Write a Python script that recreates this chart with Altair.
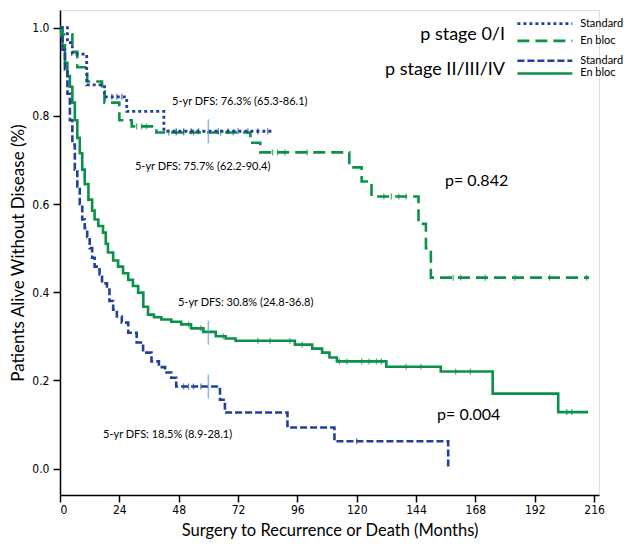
import altair as alt
import pandas as pd

# ---------------- data (months, disease-free survival) ----------------
# p stage 0/I, Standard
s0_std_t = [0, 3, 5, 10.8, 18, 27, 42, 86]
s0_std_s = [1.0, 0.966, 0.94, 0.87, 0.843, 0.81, 0.765, 0.765]
s0_std_c = [21, 23, 25, 47, 50, 53, 56, 64, 68, 72, 76, 80, 84]

# p stage 0/I, En bloc
s0_enb_t = [0, 1, 5, 7, 11, 17, 18, 24, 29, 39, 77, 81, 117, 122, 126, 145, 148, 150, 214]
s0_enb_s = [1.0, 0.985, 0.945, 0.91, 0.878, 0.855, 0.83, 0.79, 0.776, 0.762, 0.739, 0.717,
            0.683, 0.651, 0.617, 0.555, 0.50, 0.433, 0.433]
s0_enb_c = [31, 33, 35, 44, 47, 50, 54, 65, 70, 86, 88, 91, 100, 131, 134, 137, 140,
            159, 162, 172, 184, 198, 213]

# p stage II/III/IV, Standard
s2_std_t = [0, 1, 2, 3, 4, 5, 6, 7, 8, 9, 10, 11, 12, 13, 14, 16, 17, 19, 20, 21.5, 23, 25,
            27.6, 31, 33.6, 37, 40, 42.5, 45, 47, 64.7, 66.7, 92, 111, 157]
s2_std_s = [1.0, 0.95, 0.905, 0.85, 0.79, 0.735, 0.678, 0.64, 0.60, 0.565, 0.545, 0.525,
            0.50, 0.478, 0.458, 0.44, 0.42, 0.406, 0.38, 0.36, 0.345, 0.331, 0.308, 0.286,
            0.263, 0.243, 0.23, 0.218, 0.206, 0.186, 0.156, 0.127, 0.093, 0.062, 0.0]
s2_std_c = [50, 52, 54, 57, 120]

# p stage II/III/IV, En bloc
s2_enb_t = [0, 0.5, 1, 2, 3, 4, 5, 6, 7, 8, 9, 10, 11.5, 13, 14, 15.5, 17.4, 18.5, 19.4,
            21.5, 23.5, 25.5, 27.6, 29.5, 31.6, 33.7, 35.6, 38, 41, 45, 49, 53, 58, 63, 67,
            71, 95, 102, 106, 109, 112, 132, 154, 175, 201.5, 213.6]
s2_enb_s = [1.0, 0.98, 0.96, 0.92, 0.89, 0.866, 0.83, 0.79, 0.75, 0.715, 0.678, 0.645,
            0.61, 0.585, 0.565, 0.55, 0.535, 0.51, 0.49, 0.472, 0.458, 0.443, 0.428, 0.414,
            0.399, 0.367, 0.349, 0.343, 0.338, 0.333, 0.327, 0.318, 0.31, 0.30, 0.295,
            0.29, 0.281, 0.272, 0.263, 0.252, 0.243, 0.231, 0.22, 0.17, 0.128, 0.128]
s2_enb_c = [52, 57, 66, 80, 85, 93, 98, 113, 116, 122, 125, 128, 130, 140, 146, 160, 166,
            205, 207]

# 5-year markers
fiveyr_t = [60, 60, 60]
fiveyr_s = [0.765, 0.308, 0.186]

# annotations
ann_text = ["5-yr DFS: 76.3% (65.3-86.1)", "5-yr DFS: 75.7% (62.2-90.4)",
            "5-yr DFS: 30.8% (24.8-36.8)", "5-yr DFS: 18.5% (8.9-28.1)"]
ann_t = [45.3, 30.3, 47.7, 17.4]
ann_s = [0.832, 0.685, 0.376, 0.077]
pval_text = ["p= 0.842", "p= 0.004"]
pval_t = [155.7, 152.5]
pval_s = [0.653, 0.122]

# legend
leg_group = ["p stage 0/I", "p stage II/III/IV"]
leg_group_t = [180, 180]
leg_group_s = [0.984, 0.905]
leg_item = ["Standard", "En bloc", "Standard", "En bloc"]
leg_item_t = [210.4, 210.4, 210.4, 210.4]
leg_item_s = [1.009, 0.970, 0.925, 0.896]
leg_line_t = [185, 207.2]

x_ticks = [0, 24, 48, 72, 96, 120, 144, 168, 192, 216]
y_ticks = [0.0, 0.2, 0.4, 0.6, 0.8, 1.0]

BLUE = "#21409a"
GREEN = "#0b914a"
LIGHT = "#5b9bd5"
TICKFONT = "Liberation Sans Narrow, DejaVu Sans Condensed, sans-serif"
TEXTFONT = "Lato"

xs = alt.Scale(domain=[0, 218], nice=False, zero=False)
ys = alt.Scale(domain=[-0.06, 1.04], nice=False, zero=False)
X = alt.X("month:Q", scale=xs, title="Surgery to Recurrence or Death (Months)",
          axis=alt.Axis(values=x_ticks, format="d", labelFont=TICKFONT, labelFontSize=12,
                        titleFont=TEXTFONT, titleFontSize=16.5, titleFontWeight="normal",
                        titlePadding=7, tickSize=7, labelPadding=2, grid=False,
                        domainColor="black", tickColor="black", domainWidth=1.5,
                        tickWidth=1.5, labelColor="black", titleColor="black"))
Y = alt.Y("surv:Q", scale=ys, title="Patients Alive Without Disease (%)",
          axis=alt.Axis(values=y_ticks, format=".1f", labelFont=TICKFONT, labelFontSize=12,
                        titleFont=TEXTFONT, titleFontSize=17, titleFontWeight="normal",
                        titlePadding=4, tickSize=7, labelPadding=4, grid=False,
                        domainColor="black", tickColor="black", domainWidth=1.5,
                        tickWidth=1.5, labelColor="black", titleColor="black"))


def curve(t, s, color, dash, width):
    df = pd.DataFrame({"month": t, "surv": s})
    kw = dict(interpolate="step-after", color=color, strokeWidth=width)
    if dash:
        kw["strokeDash"] = dash
    return alt.Chart(df).mark_line(**kw).encode(x=X, y=Y)


def lookup(t, s, c):
    vals = []
    for ct in c:
        v = s[0]
        for tt, ss in zip(t, s):
            if tt <= ct:
                v = ss
        vals.append(v)
    return vals


def censor(t, s, c, color):
    df = pd.DataFrame({"month": c, "surv": lookup(t, s, c)})
    return alt.Chart(df).mark_tick(orient="vertical", color=color, size=6,
                                   thickness=1.3).encode(x=X, y=Y)


layers = [
    curve(s2_enb_t, s2_enb_s, GREEN, None, 2.6),
    censor(s2_enb_t, s2_enb_s, s2_enb_c, GREEN),
    curve(s2_std_t, s2_std_s, BLUE, [7, 3], 2.6),
    censor(s2_std_t, s2_std_s, s2_std_c, BLUE),
    curve(s0_enb_t, s0_enb_s, GREEN, [12, 6], 2.6),
    censor(s0_enb_t, s0_enb_s, s0_enb_c, GREEN),
    curve(s0_std_t, s0_std_s, BLUE, [3, 3], 2.8),
    censor(s0_std_t, s0_std_s, s0_std_c, BLUE),
]

five = pd.DataFrame({"month": fiveyr_t, "surv": fiveyr_s})
layers.append(alt.Chart(five).mark_tick(orient="vertical", color=LIGHT, size=24,
                                        thickness=1.5).encode(x=X, y=Y))

ann = pd.DataFrame({"month": ann_t, "surv": ann_s, "label": ann_text})
layers.append(alt.Chart(ann).mark_text(align="left", baseline="middle", font=TEXTFONT,
                                       fontSize=11, color="black")
              .encode(x=X, y=Y, text="label:N"))
pv = pd.DataFrame({"month": pval_t, "surv": pval_s, "label": pval_text})
layers.append(alt.Chart(pv).mark_text(align="left", baseline="middle", font=TEXTFONT,
                                      fontSize=16, color="black")
              .encode(x=X, y=Y, text="label:N"))

# legend
lg = pd.DataFrame({"month": leg_group_t, "surv": leg_group_s, "label": leg_group})
layers.append(alt.Chart(lg).mark_text(align="right", baseline="middle", font=TEXTFONT,
                                      fontSize=18, color="black")
              .encode(x=X, y=Y, text="label:N"))
li = pd.DataFrame({"month": leg_item_t, "surv": leg_item_s, "label": leg_item})
layers.append(alt.Chart(li).mark_text(align="left", baseline="middle", font=TEXTFONT,
                                      fontSize=11, color="black")
              .encode(x=X, y=Y, text="label:N"))

leg_styles = [(BLUE, [3, 3], 2.8), (GREEN, [12, 6], 2.6), (BLUE, [7, 3], 2.6), (GREEN, None, 2.6)]
for (col, dash, w), sv in zip(leg_styles, leg_item_s):
    d = pd.DataFrame({"month": [leg_line_t[0]], "m2": [leg_line_t[1]], "surv": [sv]})
    kw = dict(color=col, strokeWidth=w)
    if dash:
        kw["strokeDash"] = dash
    layers.append(alt.Chart(d).mark_rule(**kw).encode(x=X, x2="m2:Q", y=Y))

chart = alt.layer(*layers).properties(
    width=539, height=485,
    autosize=alt.AutoSizeParams(type="none"),
    padding={"left": 52, "top": 2, "right": 26, "bottom": 47},
).configure_view(stroke=None).configure(background="white")

chart.save("out.html", embed_options={"renderer": "svg", "actions": False})
